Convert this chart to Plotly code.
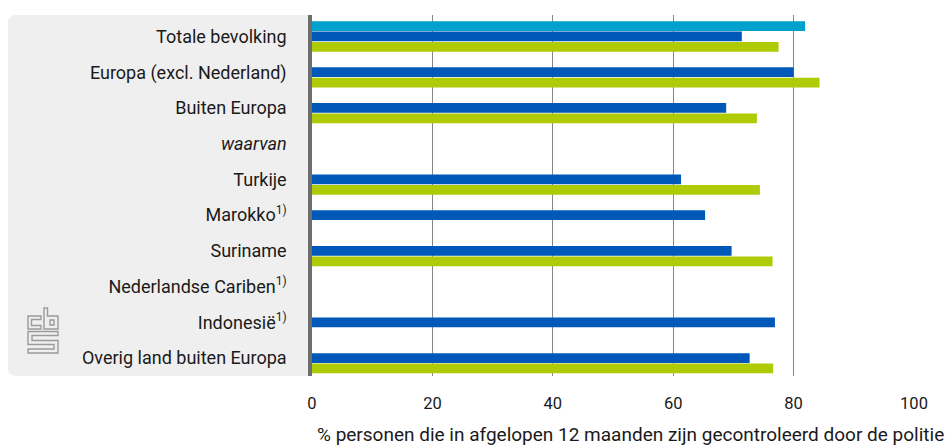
import plotly.graph_objects as go

# Data
SUP = '<sup><span style="font-size:12px">1)</span></sup>'
categories = [
    "Totale bevolking",
    "Europa (excl. Nederland)",
    "Buiten Europa",
    "<i>waarvan</i>",
    "Turkije",
    "Marokko" + SUP,
    "Suriname",
    "Nederlandse Cariben" + SUP,
    "Indonesië" + SUP,
    "Overig land buiten Europa",
]
series_a = [81.9, None, None, None, None, None, None, None, None, None]
series_b = [71.4, 80.0, 68.8, None, 61.3, 65.3, 69.7, None, 76.9, 72.7]
series_c = [77.5, 84.3, 73.9, None, 74.4, None, 76.5, None, None, 76.6]
x_ticks = [0, 20, 40, 60, 80, 100]
x_title = "% personen die in afgelopen 12 maanden zijn gecontroleerd door de politie"

W, H = 948, 446
ML, MR, MT, MB = 312, 34, 15, 70
PW, PH = W - ML - MR, H - MT - MB

FONT = "Roboto"
TEXT = "#1a1a1a"


def px(x):
    return (x - ML) / PW


def py(y):
    return 1 - (y - MT) / PH


fig = go.Figure()
for vals, color in [(series_a, "#00A1CD"), (series_b, "#0058B8"), (series_c, "#AFCB05")]:
    fig.add_trace(go.Bar(
        y=categories, x=vals, orientation="h",
        marker=dict(color=color, line=dict(width=0)),
        showlegend=False, hoverinfo="x+y",
    ))

shapes = []
# grey label panel with rounded left corners
x0 = px(8)
rx, ry = 8 / PW, 8 / PH
shapes.append(dict(
    type="path", xref="paper", yref="paper", layer="below",
    path=(f"M 0,1 L {x0 + rx},1 Q {x0},1 {x0},{1 - ry} L {x0},{ry} "
          f"Q {x0},0 {x0 + rx},0 L 0,0 Z"),
    fillcolor="#EFEFEF", line=dict(width=0),
))


def logo_path(points, close=True):
    d = "M " + " L ".join(f"{px(a)},{py(b)}" for a, b in points)
    return d + (" Z" if close else "")


logo_style = dict(type="path", xref="paper", yref="paper", layer="above",
                  line=dict(color="#9b9b9b", width=1.4), fillcolor="rgba(0,0,0,0)")
# "c"
shapes.append(dict(**logo_style, path=logo_path(
    [(41, 316), (28, 316), (28, 329), (41, 329), (41, 325.5), (31.5, 325.5),
     (31.5, 319.5), (41, 319.5)])))
# "b"
shapes.append(dict(**logo_style, path=logo_path(
    [(44, 308), (47.5, 308), (47.5, 316), (58, 316), (58, 329), (44, 329)])))
shapes.append(dict(**logo_style, path=logo_path(
    [(50, 320), (54, 320), (54, 325), (50, 325)])))
# "s"
shapes.append(dict(**logo_style, path=logo_path(
    [(58, 331.5), (28, 331.5), (28, 344.5), (54, 344.5), (54, 349), (28, 349),
     (28, 353), (58, 353), (58, 340.5), (32, 340.5), (32, 335.5), (58, 335.5)])))

fig.update_layout(
    width=W, height=H,
    margin=dict(l=ML, r=MR, t=MT, b=MB, pad=0),
    paper_bgcolor="white", plot_bgcolor="white",
    barmode="group", bargap=0.13, bargroupgap=0.06,
    font=dict(family=FONT, size=18, color=TEXT),
    shapes=shapes,
    annotations=[dict(
        text=x_title, xref="paper", yref="paper",
        x=px(946), y=py(434), xanchor="right", yanchor="middle",
        showarrow=False, font=dict(family=FONT, size=19, color=TEXT),
    )],
    xaxis=dict(
        range=[0, 100], tickvals=x_ticks, ticktext=[str(v) for v in x_ticks],
        showgrid=True, gridcolor="#858585", gridwidth=1,
        zeroline=False, showline=False, ticks="", ticklabelstandoff=15,
        tickfont=dict(family=FONT, size=16.5, color=TEXT), fixedrange=True,
    ),
    yaxis=dict(
        range=[9.5, -0.6], showgrid=False, zeroline=False,
        showline=True, linecolor="#6e6e6e", linewidth=3.5, layer="above traces",
        ticks="", ticklabelstandoff=18,
        tickfont=dict(family=FONT, size=18, color=TEXT), fixedrange=True,
    ),
)

fig.write_html("out.html")
